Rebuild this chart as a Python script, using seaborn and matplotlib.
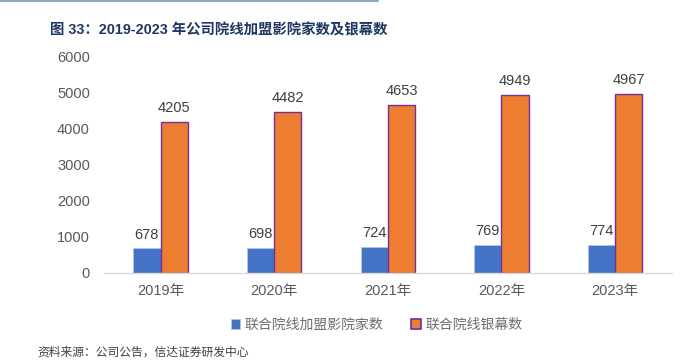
import matplotlib
matplotlib.use("Agg")
import matplotlib.pyplot as plt
import seaborn as sns
import pandas as pd
from matplotlib.lines import Line2D
from matplotlib.patches import Patch

years = ["2019年", "2020年", "2021年", "2022年", "2023年"]
franchise = [678, 698, 724, 769, 774]
screens = [4205, 4482, 4653, 4949, 4967]
series_names = ["联合院线加盟影院家数", "联合院线银幕数"]
title = "图 33：2019-2023 年公司院线加盟影院家数及银幕数"
source = "资料来源：公司公告，信达证券研发中心"

df = pd.DataFrame({
    "year": years * 2,
    "value": franchise + screens,
    "series": [series_names[0]] * len(years) + [series_names[1]] * len(years),
})

sns.set_theme(style="white")
plt.rcParams["font.family"] = ["Liberation Sans", "Noto Sans CJK SC", "DejaVu Sans"]

fig = plt.figure(figsize=(6.87, 3.6), dpi=100)
ax = fig.add_axes([0.151, 0.242, 0.827, 0.600])

colors = ["#4472C4", "#ED7D31"]
sns.barplot(data=df, x="year", y="value", hue="series", palette=colors,
            width=0.48, ax=ax, legend=False, saturation=1)

for i, cont in enumerate(ax.containers):
    for p in cont:
        if i == 1:
            p.set_edgecolor("#7030A0")
            p.set_linewidth(1.0)
        else:
            p.set_edgecolor("#B4C7E7")
            p.set_linewidth(0.5)
    ax.bar_label(cont, labels=[str(v) for v in (franchise if i == 0 else screens)],
                 padding=5, fontsize=10.5, color="#404040")

ax.set_ylim(0, 6000)
ax.set_yticks(range(0, 6001, 1000))
ax.set_xlim(-0.5, 4.5)
ax.set_xlabel("")
ax.set_ylabel("")
for s in ["top", "right", "left"]:
    ax.spines[s].set_visible(False)
ax.spines["bottom"].set_color("#D9D9D9")
ax.spines["bottom"].set_linewidth(1.0)
ax.tick_params(axis="both", length=0, labelsize=10.5, colors="#595959")
ax.tick_params(axis="y", pad=10)
ax.tick_params(axis="x", pad=8)
for t in ax.get_xticklabels() + ax.get_yticklabels():
    t.set_family(["Liberation Sans", "Noto Sans CJK SC"])

handles = [
    Patch(facecolor=colors[0], edgecolor="#B4C7E7", linewidth=0.5),
    Patch(facecolor=colors[1], edgecolor="#7030A0", linewidth=1.2),
]
fig.legend(handles, series_names, loc="center", bbox_to_anchor=(0.548, 0.097),
           ncol=2, frameon=False, handlelength=0.7, handleheight=0.7,
           handletextpad=0.3, columnspacing=2.0,
           prop={"family": "Noto Sans CJK SC", "size": 10}, labelcolor="#6E6E6E")

fig.text(0.073, 0.915, title, fontsize=10.4, fontweight="bold", color="#1F3864",
         family=["Liberation Sans", "Noto Sans CJK SC"], va="center")
fig.text(0.055, 0.004, source, fontsize=8.5, color="#404040",
         family=["Noto Sans CJK SC"], va="bottom")

fig.add_artist(Line2D([0, 0.55], [0.998, 0.998], color="#8EA9C8", lw=1.5,
                      transform=fig.transFigure))

fig.savefig("out.png", dpi=100)
